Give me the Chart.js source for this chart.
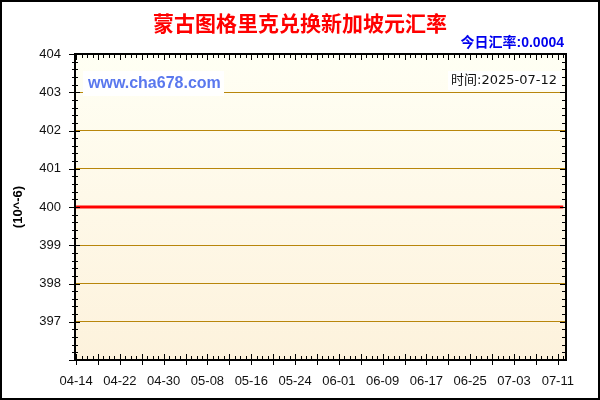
<!DOCTYPE html>
<html><head><meta charset="utf-8">
<script src="https://cdn.jsdelivr.net/npm/chart.js@4"></script>
<style>html,body{margin:0;padding:0;background:#fff}#wrap{width:600px;height:400px;position:relative}</style>
</head><body><div id="wrap"><canvas id="c" width="600" height="400"></canvas></div>
<script>
const titleText = '蒙古图格里克兑换新加坡元汇率';
const rateText = '今日汇率:0.0004';
const dateText = '时间:2025-07-12';
const siteText = 'www.cha678.com';
const unitText = '(10^-6)';
const tickDates = ['04-14','04-22','04-30','05-08','05-16','05-24','06-01','06-09','06-17','06-25','07-03','07-11'];
const pointDates = ['04-14','04-22','04-30','05-08','05-16','05-24','06-01','06-09','06-17','06-25','07-03','07-11','07-12'];
const pointValues = [400,400,400,400,400,400,400,400,400,400,400,400,400];
const yTickValues = [397,398,399,400,401,402,403,404];
const gridValues = [397,398,399,400,401,402,403];

function dayIndex(md){const p=md.split('-').map(Number);return (Date.UTC(2025,p[0]-1,p[1])-Date.UTC(2025,3,14))/86400000;}
const labelByDay = {};
tickDates.forEach(d=>{labelByDay[dayIndex(d)]=d;});

const LAT = "'Liberation Sans', Arial, 'Noto Sans CJK SC'";
const CJK = "'Liberation Sans', 'Noto Sans CJK SC'";

const decor = {
  id:'decor',
  beforeDraw(chart){
    const {ctx, chartArea:a} = chart;
    ctx.save();
    const g = ctx.createLinearGradient(0,a.top,0,a.bottom);
    g.addColorStop(0,'#fffff4');
    g.addColorStop(1,'#fdf2dc');
    ctx.fillStyle = g;
    ctx.fillRect(a.left,a.top,a.right-a.left,a.bottom-a.top);
    ctx.restore();
  },
  afterDraw(chart){
    const {ctx, chartArea:a} = chart;
    const xs = chart.scales.x, ys = chart.scales.y;
    ctx.save();
    // white label boxes
    ctx.fillStyle = '#ffffff';
    ctx.fillRect(83,71,141,25);
    ctx.fillRect(448,71,114,19);
    ctx.font = "bold 16px " + LAT;
    ctx.fillStyle = '#5a78ee';
    ctx.textBaseline = 'middle';
    ctx.textAlign = 'left';
    ctx.fillText(siteText, 88, 84);
    ctx.font = "13px 'DejaVu Sans', 'Noto Sans CJK SC'";
    ctx.fillStyle = '#111';
    ctx.textAlign = 'right';
    ctx.fillText(dateText, 557, 81);
    // frame
    ctx.strokeStyle = '#000';
    ctx.lineWidth = 2;
    ctx.strokeRect(a.left, a.top, a.right-a.left, a.bottom-a.top);
    ctx.lineWidth = 1;
    ctx.beginPath();
    for(let d=Math.ceil(xs.min); d<=Math.floor(xs.max); d++){
      const px = Math.round(xs.getPixelForValue(d))+0.5;
      const major = d%4===0;
      if(major){
        ctx.moveTo(px,a.bottom-6); ctx.lineTo(px,a.bottom+5);
        ctx.moveTo(px,a.top); ctx.lineTo(px,a.top+6);
      } else {
        ctx.moveTo(px,a.bottom-4); ctx.lineTo(px,a.bottom+1);
        ctx.moveTo(px,a.top); ctx.lineTo(px,a.top+4);
      }
    }
    for(let i=0;i<=40;i++){
      const v = 396 + i*0.2;
      const py = Math.round(ys.getPixelForValue(v))+0.5;
      if(i%5===0){
        ctx.moveTo(a.left-6,py); ctx.lineTo(a.left+5,py);
        ctx.moveTo(a.right-6,py); ctx.lineTo(a.right,py);
      } else {
        ctx.moveTo(a.left-3,py); ctx.lineTo(a.left+3,py);
        ctx.moveTo(a.right-4,py); ctx.lineTo(a.right,py);
      }
    }
    ctx.stroke();
    // titles
    ctx.textAlign = 'center';
    ctx.textBaseline = 'middle';
    ctx.font = "bold 21px 'Noto Sans CJK SC'";
    ctx.fillStyle = '#ff0000';
    ctx.fillText(titleText, 300, 23);
    ctx.font = "bold 14px " + CJK;
    ctx.fillStyle = '#0000ee';
    ctx.textAlign = 'right';
    ctx.fillText(rateText, 564, 43);
    // unit label
    ctx.translate(18, 207);
    ctx.rotate(-Math.PI/2);
    ctx.textAlign = 'center';
    ctx.font = "bold 13px " + LAT;
    ctx.fillStyle = '#000';
    ctx.fillText(unitText, 0, 0);
    ctx.restore();
    // outer border
    ctx.save();
    ctx.strokeStyle = '#000';
    ctx.lineWidth = 2;
    ctx.strokeRect(1,1,598,398);
    ctx.restore();
  }
};

new Chart(document.getElementById('c'), {
  type:'line',
  data:{
    datasets:[{
      data: pointDates.map((d,i)=>({x:dayIndex(d), y:pointValues[i]})),
      borderColor:'#ff0000',
      borderWidth:3,
      pointRadius:0,
      tension:0,
      fill:false
    }]
  },
  options:{
    responsive:false,
    animation:false,
    devicePixelRatio:1,
    layout:{padding:{top:54,left:0,right:34,bottom:0}},
    plugins:{legend:{display:false},tooltip:{enabled:false},title:{display:false}},
    scales:{
      x:{
        type:'linear',
        min:-0.2, max:89.5,
        afterFit(s){s.height=40;},
        afterBuildTicks(s){s.ticks = tickDates.map(d=>({value:dayIndex(d)}));},
        grid:{display:false},
        border:{display:false},
        ticks:{
          autoSkip:false, maxRotation:0, padding:6,
          font:{family:"'Liberation Sans', Arial", size:13},
          color:'#111',
          callback:(v)=>labelByDay[v] || ''
        }
      },
      y:{
        min:396, max:404,
        afterFit(s){s.width=75;},
        afterBuildTicks(s){s.ticks = yTickValues.map(v=>({value:v}));},
        grid:{
          drawTicks:false,
          lineWidth:1,
          color:(c)=> gridValues.includes(c.tick && c.tick.value) ? '#b8860b' : 'rgba(0,0,0,0)'
        },
        border:{display:false},
        ticks:{
          padding:14,
          font:{family:"'Liberation Sans', Arial", size:13},
          color:'#111',
          callback:(v)=>String(v)
        }
      }
    }
  },
  plugins:[decor]
});
</script>
</body></html>
